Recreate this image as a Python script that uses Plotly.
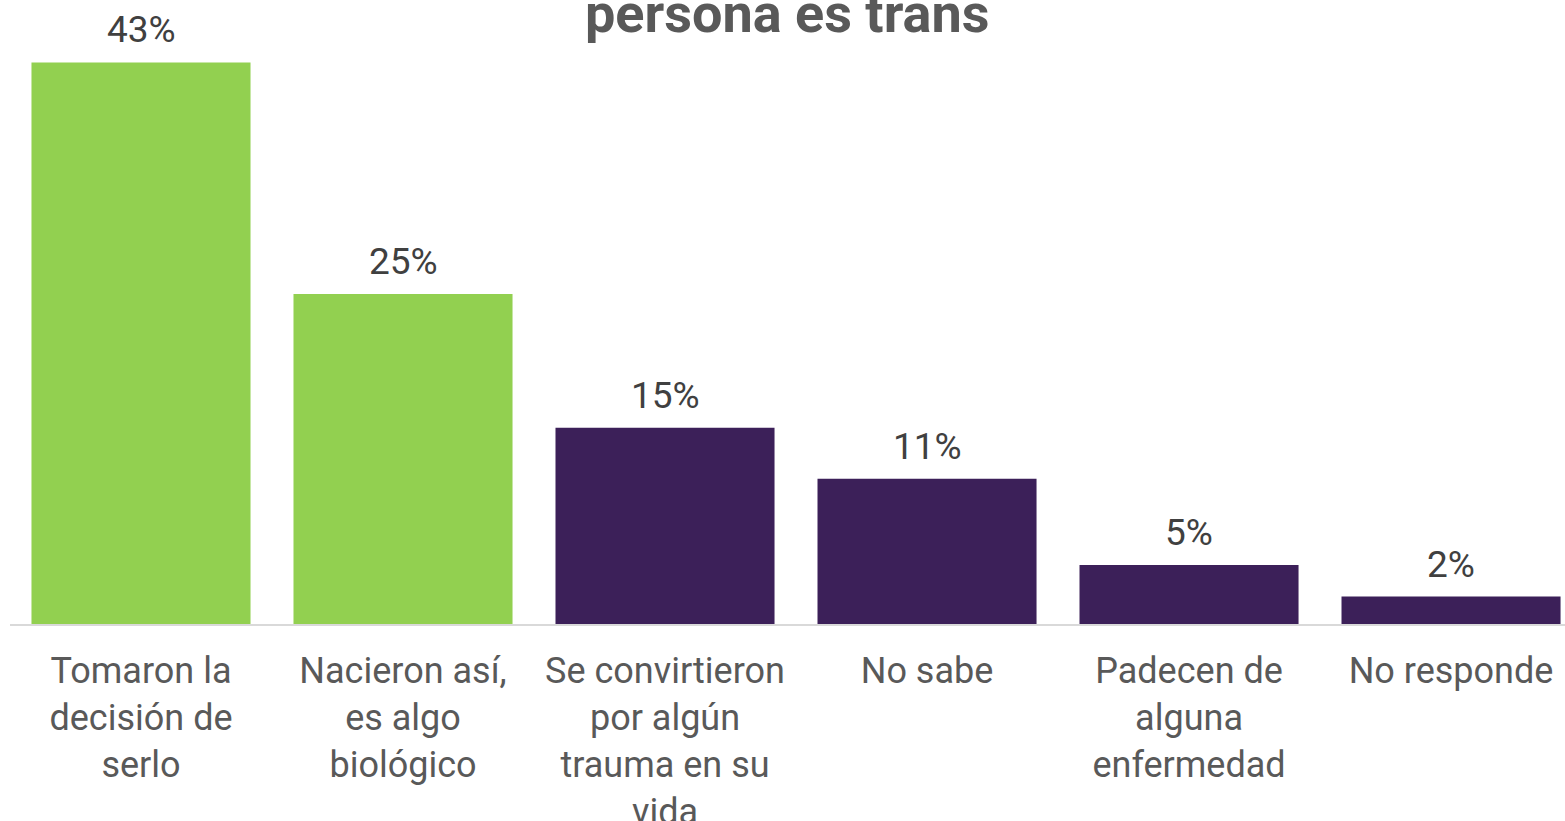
import plotly.graph_objects as go

categories = [
    "Tomaron la<br>decisión de<br>serlo",
    "Nacieron así,<br>es algo<br>biológico",
    "Se convirtieron<br>por algún<br>trauma en su<br>vida",
    "No sabe",
    "Padecen de<br>alguna<br>enfermedad",
    "No responde",
]
values = [42.9, 25.2, 15.0, 11.1, 4.5, 2.1]
value_labels = ["43%", "25%", "15%", "11%", "5%", "2%"]
bar_colors = ["#92D050", "#92D050", "#3C2059", "#3C2059", "#3C2059", "#3C2059"]
title_text = "persona es trans"

fig = go.Figure()
fig.add_trace(go.Bar(
    x=categories,
    y=values,
    marker=dict(color=bar_colors, line=dict(width=0)),
    hoverinfo="skip",
))

for c, v, t in zip(categories, values, value_labels):
    fig.add_annotation(
        x=c, y=v, xref="x", yref="y", text=t, showarrow=False,
        yanchor="bottom", yshift=9,
        font=dict(family="Roboto", size=37, color="#404040"),
    )

fig.update_layout(
    width=1565, height=821,
    margin=dict(l=10, r=0, t=48, b=197),
    paper_bgcolor="white", plot_bgcolor="white",
    showlegend=False,
    bargap=0.164,
    title=dict(
        text=title_text, x=0.503, xanchor="center",
        y=1 - 32 / 821, yanchor="bottom", yref="container",
        font=dict(family="Roboto", size=54, color="#595959", weight="bold"),
    ),
    xaxis=dict(
        range=[-0.5, 5.435],
        automargin=False,
        showline=True, linecolor="#D9D9D9", linewidth=2,
        ticks="", showgrid=False, zeroline=False,
        tickfont=dict(family="Roboto", size=36, color="#595959"),
        ticklabelstandoff=14,
    ),
    yaxis=dict(
        range=[0, 44], visible=False, showgrid=False, zeroline=False,
        automargin=False,
    ),
)

fig.write_html(
    "out.html",
    config={"displayModeBar": False},
    post_script="document.body.style.margin='0';document.body.style.overflow='hidden';",
)
